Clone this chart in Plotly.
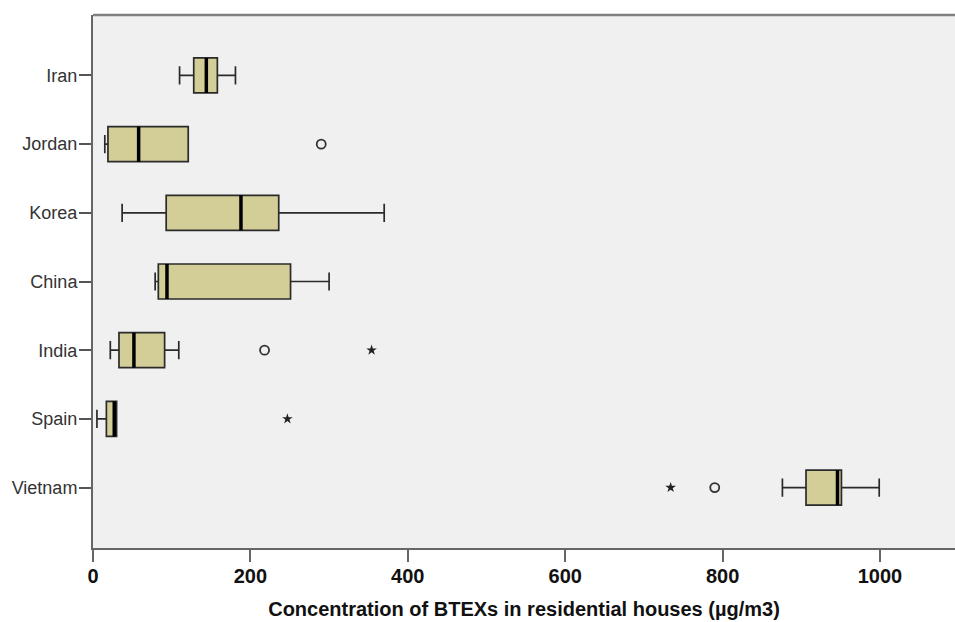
import plotly.graph_objects as go

countries = ["Iran", "Jordan", "Korea", "China", "India", "Spain", "Vietnam"]
lower_whisker = [110, 15, 37, 79, 22, 5, 876]
q1 = [128, 19, 93, 83, 33, 17, 906]
median = [144, 58, 188, 94, 52, 27, 946]
q3 = [158, 121, 236, 251, 91, 30, 951]
upper_whisker = [181, 121, 370, 300, 109, 30, 999]

# outliers: (country, value)
circle_country = ["Jordan", "India", "Vietnam"]
circle_value = [290, 218, 790]
star_country = ["India", "Spain", "Vietnam"]
star_value = [354, 247, 734]

x_title = "Concentration of BTEXs in residential houses (µg/m3)"
x_ticks = [0, 200, 400, 600, 800, 1000]

pos = {c: i for i, c in enumerate(countries)}
ypos = list(range(len(countries)))
BOXW = 0.51

fig = go.Figure()
fig.add_trace(go.Box(
    y=ypos, q1=q1, median=median, q3=q3,
    lowerfence=lower_whisker, upperfence=upper_whisker,
    orientation="h", width=BOXW, whiskerwidth=0.52,
    fillcolor="#D3CE97", line=dict(color="#2a2a2a", width=1.7),
    boxpoints=False, hoverinfo="skip", showlegend=False,
))

# thick median lines
mx, my = [], []
for i, m in enumerate(median):
    mx += [m, m, None]
    my += [i - BOXW / 2, i + BOXW / 2, None]
fig.add_trace(go.Scatter(x=mx, y=my, mode="lines",
                         line=dict(color="black", width=3.5),
                         hoverinfo="skip", showlegend=False))

fig.add_trace(go.Scatter(
    x=circle_value, y=[pos[c] for c in circle_country], mode="markers",
    marker=dict(symbol="circle-open", size=9, color="#333333", line=dict(width=1.8)),
    hoverinfo="skip", showlegend=False))
fig.add_trace(go.Scatter(
    x=star_value, y=[pos[c] for c in star_country], mode="markers",
    marker=dict(symbol="star", size=8, color="#222222"),
    hoverinfo="skip", showlegend=False))

fig.update_layout(
    width=955, height=622,
    margin=dict(l=93, r=0, t=15, b=74),
    paper_bgcolor="white", plot_bgcolor="#F0F0F0",
    font=dict(family="Liberation Sans, Arial", color="#222222"),
    xaxis=dict(
        range=[0, 862 / 0.787], tickvals=x_ticks, ticktext=[str(t) for t in x_ticks],
        showgrid=False, zeroline=False, showline=True, linecolor="#666666", linewidth=2,
        mirror=False, ticks="outside", ticklen=12, tickwidth=2, tickcolor="#666666",
        tickfont=dict(size=20, color="#111111", family="Liberation Sans, Arial", weight="bold"),
        ticklabelstandoff=-3,
        title=dict(text=x_title, font=dict(size=20, color="#111111", weight="bold"), standoff=16),
    ),
    yaxis=dict(
        range=[len(countries) - 1 + 0.88, -0.88], tickvals=ypos, ticktext=countries,
        showgrid=False, zeroline=False, showline=True, linecolor="#666666", linewidth=2,
        ticks="outside", ticklen=12, tickwidth=2, tickcolor="#555555",
        tickfont=dict(size=18, color="#333333"), ticklabelstandoff=-2,
    ),
    shapes=[dict(type="line", xref="paper", yref="paper", x0=0, x1=1, y0=1, y1=1,
                 line=dict(color="#808080", width=2.5))],
)

fig.write_html("out.html")
